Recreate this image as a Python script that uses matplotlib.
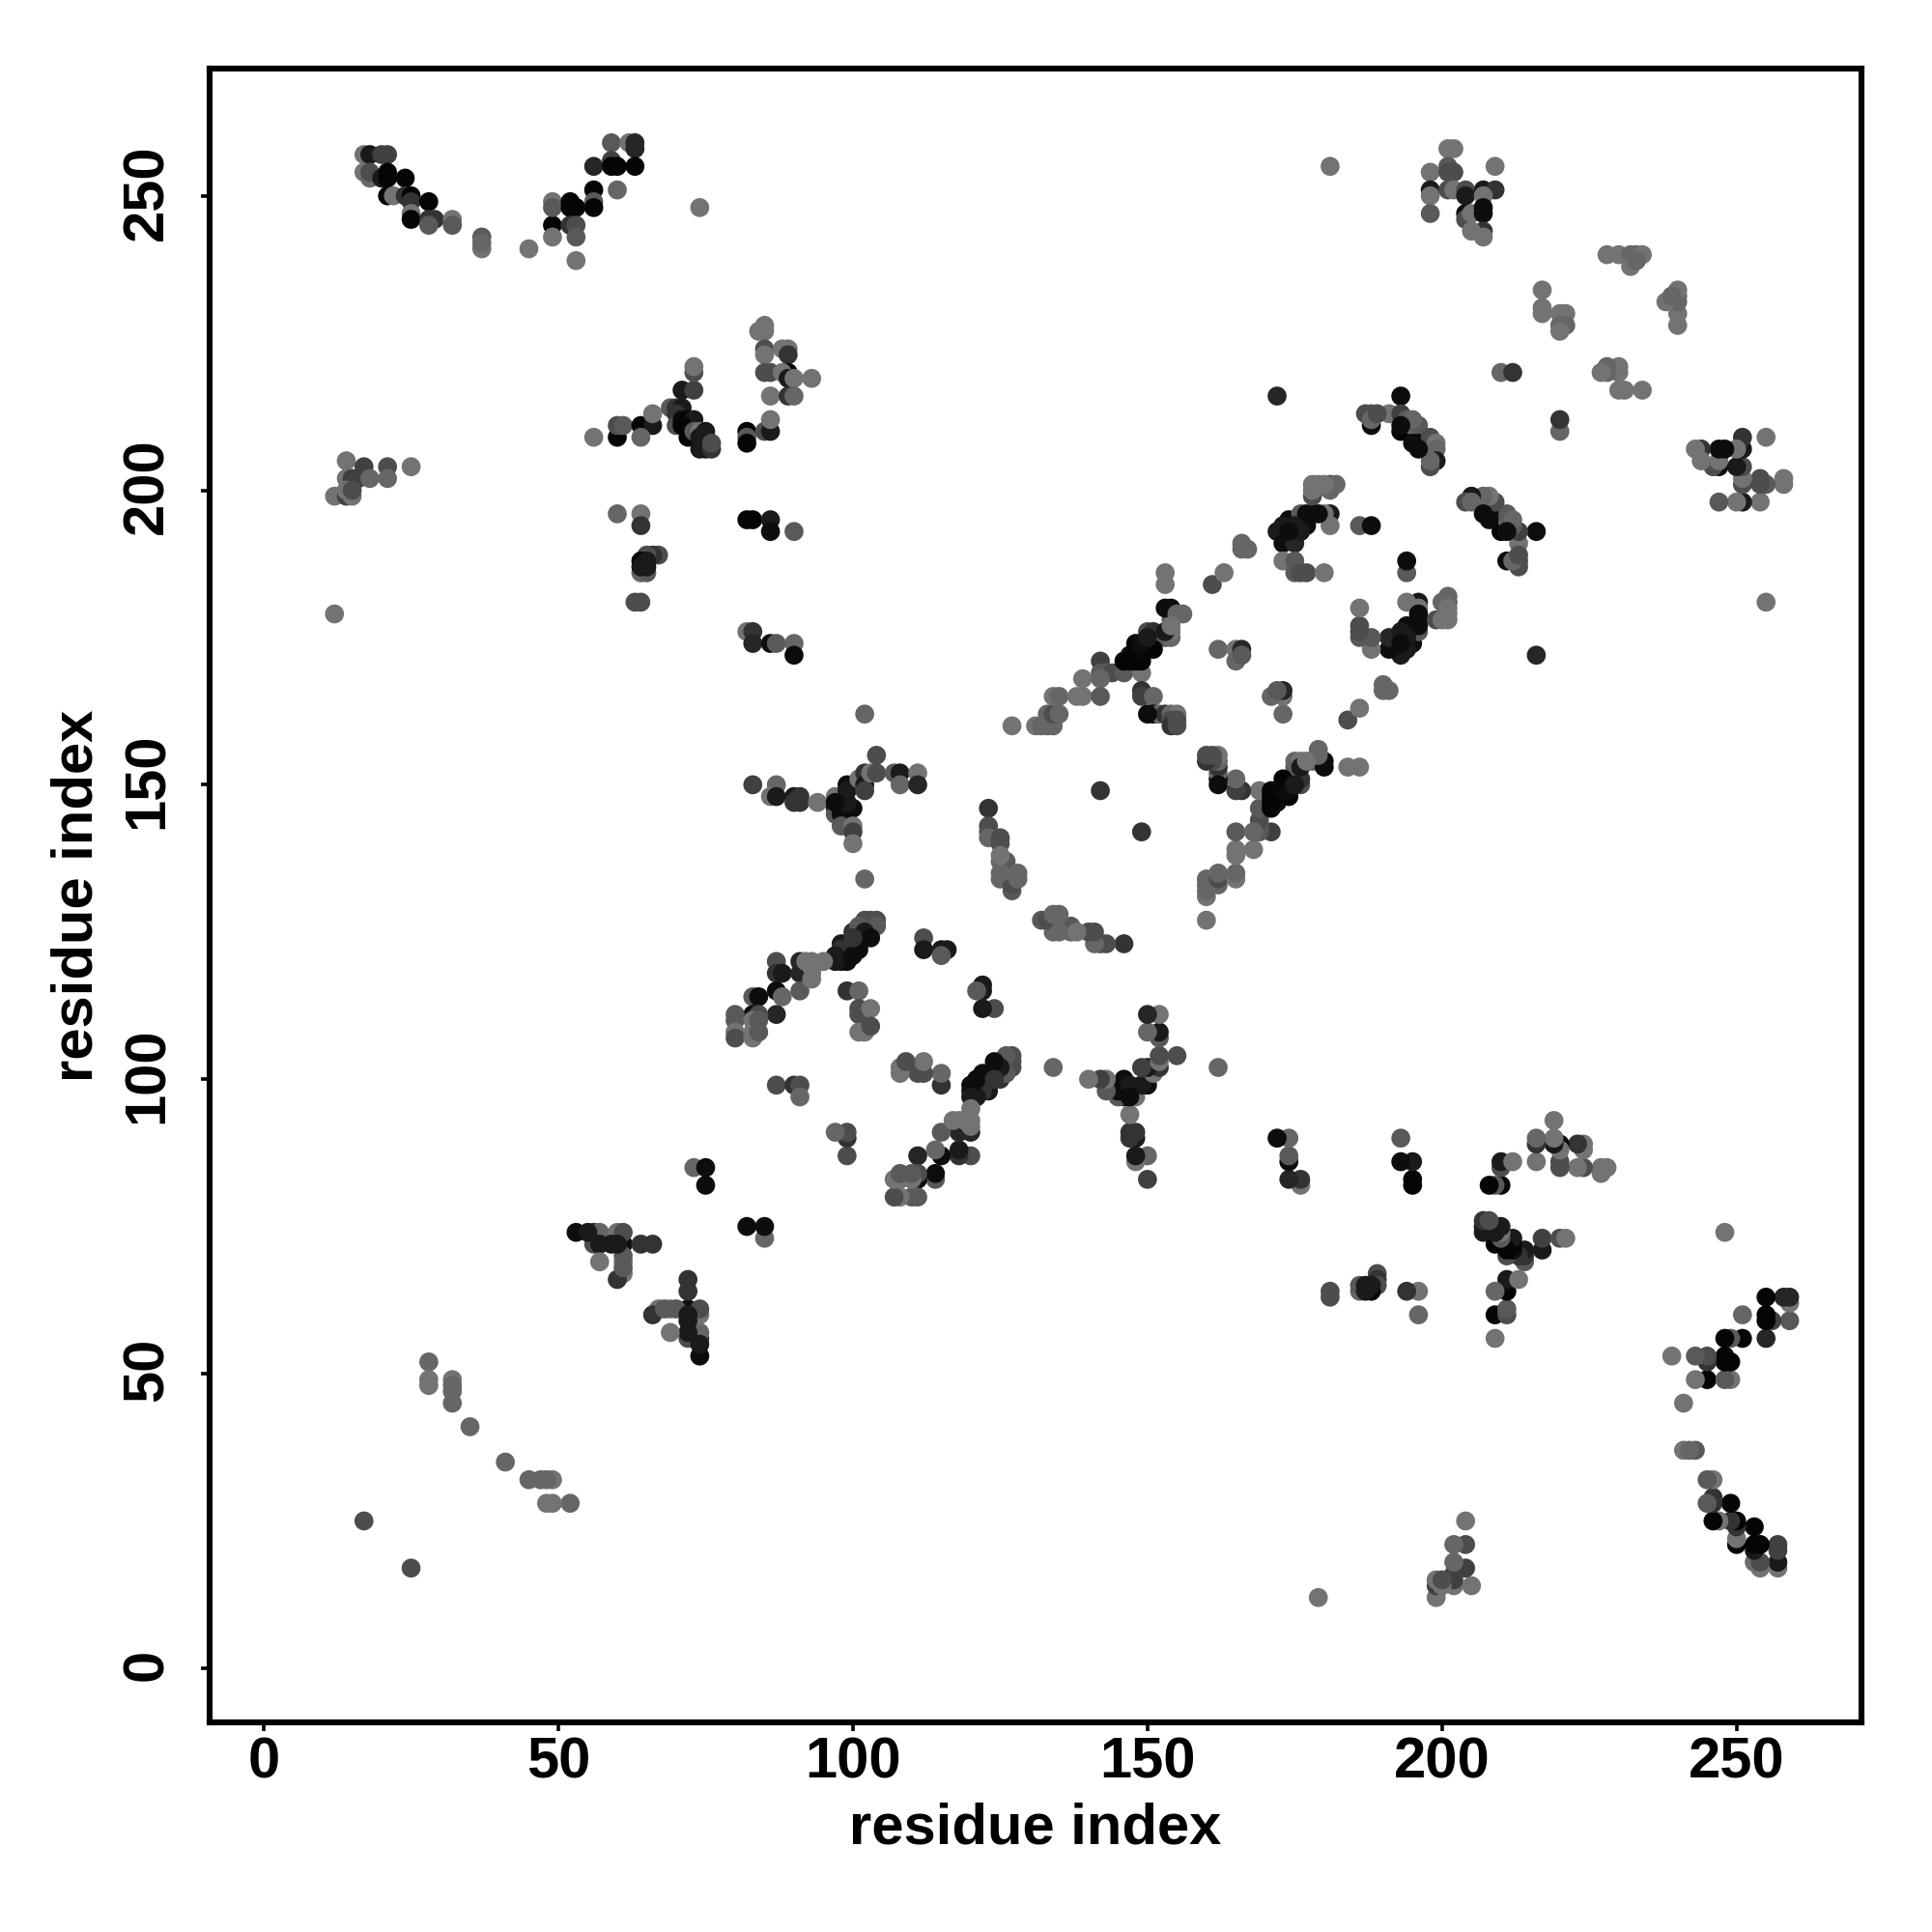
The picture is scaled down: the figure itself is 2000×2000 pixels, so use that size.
import matplotlib
matplotlib.use("Agg")
import matplotlib.pyplot as plt
from matplotlib.transforms import ScaledTranslation

plt.rcParams['font.family'] = ['Liberation Sans', 'DejaVu Sans']

# contacts: (residue i, residue j, grey level)
nterm_a = [(17,257,.45),(18,257,.1),(20,257,.25),(21,257,.25),(17,254,.45),(18,253,.42),(18,254,.3),(20,253,.1),
 (21,254,.02),(21,253,.02),(24,253,.02),(21,250,.02),(22,250,.45),(24,250,.2),(25,250,.02),(25,249,.2),(28,249,.02),
 (25,247,.45),(25,246,.02),(28,246,.2),(29,246,.2),(28,245,.35),(32,246,.45),(32,245,.35),(37,243,.35),(37,241,.45),
 (37,242,.4),(45,241,.45)]
nterm_b = [(49,245,.02),(49,243,.45),(49,249,.45),(49,248,.35),(52,249,.02),(53,248,.02),(52,248,.02),(52,245,.2),
 (53,245,.3),(53,243,.35),(53,239,.45),(56,251,.02),(56,249,.35),(56,248,.02),(56,255,.15),(59,259,.35),(59,256,.25),
 (59,255,.02),(60,255,.02),(60,251,.4),(62,259,.45),(63,259,.15),(63,258,.15),(63,255,.02),(74,248,.45)]
left_group = [(14,205,.45),(17,204,.25),(21,204,.3),(25,204,.45),(14,202,.45),(15,202,.25),(16,202,.25),(18,202,.4),
 (21,202,.4),(12,199,.45),(14,199,.25),(15,199,.45),(14,200,.45),(15,200,.3),(12,179,.45),(17,25,.3),(25,17,.3)]
mid_upper = [(56,209,.45),(60,209,.02),(60,211,.3),(61,211,.35),(64,211,.02),(66,211,.1),(64,209,.4),(66,213,.45),
 (69,214,.35),(70,214,.2),(71,214,.1),(70,213,.2),(70,211,.3),(71,217,.1),(73,217,.25),(73,220,.3),(73,221,.45),
 (71,212,.05),(72,212,.02),(73,212,.1),(72,210,.3),(71,211,.02),(72,209,.02),(73,210,.35),(74,210,.45),(75,210,.1),
 (74,209,.1),(75,209,.1),(74,207,.1),(75,207,.1),(76,207,.2),(76,208,.3)]
mid_upper_b = [(82,210,.02),(82,209,.35),(82,208,.02),(85,210,.3),(86,210,.1),(86,212,.45),(84,227,.45),(85,227,.45),
 (85,228,.45),(85,224,.3),(85,223,.45),(85,220,.3),(86,220,.3),(88,224,.45),(89,224,.45),(89,223,.2),(89,220,.02),
 (88,220,.45),(89,219,.1),(90,219,.45),(93,219,.45),(86,216,.45),(89,216,.2),(90,216,.4)]
mid_lower = [(60,196,.4),(64,196,.45),(64,194,.2),(82,195,.02),(83,195,.02),(86,195,.1),(86,193,.05),(90,193,.35),
 (64,186,.4),(65,186,.35),(67,189,.3),(66,189,.2),(65,189,.3),(64,188,.02),(65,188,.1),(64,187,.1),(65,187,.1),
 (63,181,.3),(64,181,.3),(82,176,.45),(83,176,.2),(83,174,.15),(86,174,.05),(87,174,.35),(90,174,.4),(90,172,.05)]
low_pairs = [(28,52,.4),(28,49,.45),(28,48,.45),(32,49,.45),(32,48,.4),(32,47,.4),(32,45,.4),(35,41,.4),
 (53,74,.05),(56,74,.2),(57,74,.4),(60,74,.45),(56,72,.3),(57,72,.1),(57,69,.45),(59,72,.1),(61,72,.05),(61,74,.3),
 (61,69,.45),(61,67,.45),(60,66,.2),(64,72,.2),(66,72,.2),(61,70,.35),(61,68,.35),
 (73,85,.4),(75,85,.05),(75,82,.05),(85,73,.4),(87,99,.3),(90,99,.2),(91,99,.3),(91,97,.4),
 (72,60,.1),(72,57,.1),(74,57,.1),(74,60,.45),(74,55,.1),(69,57,.45)]
helix_a = [(102,162,.4),(104,155,.3),(83,150,.25),(87,150,.4),(86,148,.45),(87,148,.1),(90,148,.1),(91,148,.2),
 (90,147,.2),(91,147,.2),(94,147,.45),(97,148,.45),(99,150,.05),(99,149,.1),(97,146,.1),(97,145,.35),(98,146,.1),
 (98,145,.05),(99,146,.05),(100,146,.05),(98,143,.35),(100,143,.45),(100,142,.25),(100,140,.45),(101,151,.45),
 (102,152,.2),(102,150,.1),(102,149,.25),(103,152,.45),(104,152,.3),(107,152,.35),(108,152,.1),(108,150,.4),
 (111,152,.45),(111,150,.15),(102,134,.4)]
helix_b = [(102,127,.3),(103,127,.3),(104,127,.3),(104,126,.35),(100,125,.2),(101,126,.35),(101,124,.1),(102,125,.1),
 (102,124,.1),(103,124,.05),(98,123,.1),(99,123,.1),(99,122,.1),(101,122,.05),(98,122,.2),(97,121,.1),(98,120,.1),
 (99,120,.05),(97,120,.1),(100,121,.05),(93,120,.45),(95,120,.45),(93,118,.45),(87,120,.3),(87,118,.2),(88,118,.1),
 (91,120,.15),(91,118,.15),(92,120,.45),(87,115,.05),(88,114,.4),(91,115,.35),(83,114,.35),(84,114,.05),(87,111,.15),
 (83,111,.05),(84,111,.3),(80,111,.35),(80,110,.35),(80,108,.45),(80,107,.3),(83,110,.45),(83,108,.45),(83,107,.45)]
helix_c = [(99,115,.2),(101,115,.4),(101,112,.3),(101,111,.3),(103,112,.45),(101,108,.45),(102,108,.45),(103,109,.3),
 (112,124,.3),(112,122,.1),(115,122,.1),(116,122,.1),(115,121,.35),(122,116,.1),(122,115,.1),(121,115,.4),(122,112,.05),
 (124,112,.3),(123,146,.2),(123,143,.3),(123,142,.3),(123,141,.4),(125,141,.3),(125,140,.3),(125,137,.4),(126,137,.35),
 (125,134,.4),(127,132,.35),(127,133,.3),(128,134,.4),(128,135,.4)]
centre_a = [(127,160,.45),(131,160,.45),(132,160,.4),(133,160,.4),(134,160,.4),(133,162,.4),(134,162,.3),(135,162,.4),
 (134,165,.45),(135,165,.4),(138,165,.45),(139,165,.45),(142,165,.35),(139,168,.45),(142,171,.25),(142,169,.35),
 (143,169,.35),(144,169,.3),(146,169,.35),(149,169,.45),(142,168,.4),(149,166,.2),(149,165,.25),(151,165,.4),
 (151,162,.05),(152,162,.4),(153,162,.2),(154,162,.4),(155,162,.45),(154,161,.3),(154,160,.2)]
centre_b = [(146,171,.02),(147,172,.05),(148,171,.02),(149,171,.02),(148,174,.02),(149,173,.05),(150,173,.02),
 (151,174,.05),(150,176,.3),(151,176,.2),(152,175,.2),(153,175,.35),(154,175,.4),(154,176,.45),(154,179,.1),(154,178,.35),
 (153,180,.05),(154,180,.05),(155,179,.4),(156,179,.4),(162,173,.4),(165,173,.45),(166,173,.15),(165,171,.4),(166,172,.35),
 (171,165,.35),(172,166,.45),(173,166,.15),(173,165,.4),(173,162,.4),(184,161,.3),(186,163,.45)]
centre_c = [(160,154,.2),(161,155,.3),(162,155,.4),(160,155,.3),(162,153,.15),(162,152,.4),(162,150,.05),(162,151,.15),
 (165,151,.35),(165,149,.2),(166,149,.2),(169,149,.45),(171,149,.02),(171,146,.02),(171,147,.02),(172,147,.05),
 (173,151,.02),(174,148,.02),(174,149,.05),(175,153,.1),(176,153,.1),(176,150,.2),(175,150,.1),(176,154,.4),(179,156,.35),
 (180,154,.05),(180,153,.05),(177,154,.45),(184,153,.45),(186,153,.45),(169,146,.3),(169,144,.35),(169,142,.2),
 (168,142,.45),(171,142,.2),(165,142,.35),(165,139,.45),(165,138,.4),(168,139,.45),(165,135,.35),(165,134,.4),
 (162,135,.4),(162,133,.25),(160,134,.4),(160,133,.4),(160,131,.45),(160,132,.4),(160,127,.45),(142,149,.2),(149,142,.2),
 (133,127,.3),(134,128,.35),(135,128,.35),(134,125,.4),(135,125,.4),(137,126,.4),(138,125,.45),(140,125,.35),
 (141,125,.35),(141,123,.4),(143,123,.3),(146,123,.2)]
upper_a = [(172,216,.15),(193,216,.05),(188,213,.3),(187,213,.3),(188,211,.05),(191,213,.45),(193,213,.25),(194,212,.35),
 (193,210,.02),(195,211,.4),(196,211,.35),(195,208,.05),(196,208,.05),(198,209,.3),(199,208,.45),(199,207,.4),
 (199,205,.1),(198,204,.3),(198,205,.4),(204,198,.3),(205,199,.15),(207,199,.45),(208,199,.45),(209,198,.35),
 (207,196,.05),(208,195,.02),(210,193,.02),(211,196,.35),(212,195,.4),(213,193,.2),(216,193,.05),(213,191,.4),
 (211,188,.05),(212,188,.4),(213,188,.25),(213,189,.3),(211,193,.05)]
upper_b = [(172,193,.1),(174,195,.05),(173,194,.1),(175,193,.05),(173,191,.05),(175,191,.15),(173,188,.45),(175,188,.35),
 (175,186,.35),(176,186,.3),(177,186,.3),(180,186,.45),(176,196,.35),(177,196,.05),(178,196,.05),(177,194,.05),
 (175,194,.1),(181,196,.1),(180,196,.45),(181,194,.45),(178,201,.45),(179,201,.45),(181,201,.3),(182,201,.4),
 (178,199,.3),(178,200,.45),(181,200,.4),(166,191,.4),(167,190,.4),(166,190,.4),(163,186,.45),(161,184,.3),
 (186,194,.35),(188,194,.05),(194,188,.05),(194,186,.3)]
upper_c = [(186,180,.45),(186,177,.35),(186,175,.35),(188,175,.35),(188,173,.45),(191,175,.1),(191,173,.15),(193,172,.1),
 (193,176,.1),(193,174,.05),(195,174,.05),(194,177,.05),(196,177,.05),(196,179,.05),(196,178,.05),(194,181,.45),
 (196,181,.15),(199,178,.4),(201,178,.45),(201,180,.45),(201,181,.3),(201,182,.45),(200,181,.45),(216,172,.15),
 (190,167,.4),(191,166,.4),(190,166,.45)]
corner_a = [(201,258,.45),(202,258,.45),(198,254,.45),(201,255,.35),(202,254,.3),(201,254,.3),(209,255,.45),(198,251,.1),
 (198,250,.45),(198,247,.35),(201,251,.3),(202,251,.45),(204,251,.3),(204,250,.1),(207,251,.1),(209,251,.2),(207,250,.45),
 (204,247,.05),(204,246,.3),(205,247,.45),(207,248,.05),(207,247,.05),(207,244,.2),(207,243,.45),(205,244,.45)]
corner_b = [(228,240,.45),(230,240,.45),(232,240,.4),(233,240,.4),(234,240,.45),(232,238,.45),(233,239,.4),(217,234,.45),
 (217,231,.45),(217,230,.45),(220,230,.45),(221,230,.45),(220,228,.4),(221,228,.4),(220,227,.45),(240,234,.45),
 (239,233,.4),(240,233,.4),(238,232,.45),(240,230,.45),(240,228,.45),(210,220,.4),(212,220,.2),(227,220,.45),
 (228,221,.45),(230,221,.45),(230,220,.45),(230,217,.45),(231,217,.45),(234,217,.45),(220,212,.2),(220,210,.4)]
corner_c = [(243,207,.45),(244,207,.2),(244,205,.45),(247,207,.05),(248,207,.05),(247,205,.35),(247,204,.05),(246,204,.45),
 (251,209,.15),(251,207,.05),(250,207,.45),(255,209,.45),(250,204,.05),(251,204,.35),(251,202,.45),(251,201,.25),
 (254,202,.3),(255,201,.3),(254,201,.3),(258,202,.45),(258,201,.35),(247,198,.35),(250,198,.45),(251,198,.1),
 (254,198,.45),(255,181,.45)]
lower_band = [(127,104,.3),(127,103,.35),(127,102,.35),(126,104,.45),(124,103,.1),(122,101,.1),(124,100,.2),(120,99,.05),
 (122,99,.15),(123,98,.2),(120,97,.2),(120,95,.45),(120,93,.45),(120,91,.15),(120,87,.3),(134,102,.4),(162,102,.45),
 (140,100,.45),(142,100,.3),(143,100,.4),(143,98,.3),(145,98,.1),(146,100,.05),(146,99,.05),(147,99,.1),(145,97,.2),
 (147,97,.05),(148,97,.45),(149,102,.2),(150,102,.05),(149,99,.1),(150,99,.1),(151,101,.4),(152,102,.2),(155,104,.35),
 (152,104,.3),(152,103,.45),(150,111,.1),(152,111,.45),(150,108,.4),(152,108,.15),(152,107,.4),(147,94,.45),(147,91,.2),
 (148,91,.2),(147,90,.1),(148,90,.05),(148,87,.1),(150,87,.45),(148,86,.45),(150,83,.3),(115,91,.3),(117,93,.45),
 (119,93,.45),(118,87,.1),(108,84,.35),(110,84,.35)]

clusters = [nterm_a, nterm_b, left_group, mid_upper, mid_upper_b, mid_lower, low_pairs, helix_a, helix_b, helix_c,
            centre_a, centre_b, centre_c, upper_a, upper_b, upper_c, corner_a, corner_b, corner_c, lower_band]
tick_values = [0, 50, 100, 150, 200, 250]
axis_label = "residue index"

seen = {}
for cluster in clusters:
    for i, j, g in cluster:
        seen.setdefault((i, j), g)
        seen.setdefault((j, i), g)

xs = [k[0] for k in seen]
ys = [k[1] for k in seen]
greys = [str(g) for g in seen.values()]

fig = plt.figure(figsize=(10, 10), dpi=200)
L, R, T, B = 217, 1927, 71, 1783
ax = fig.add_axes([L/2000, 1-B/2000, (R-L)/2000, (B-T)/2000])
ax.scatter(xs, ys, s=50, c=greys, linewidths=0, zorder=3, clip_on=True)
ax.set_xlim(-9.2, 271.2)
ax.set_ylim(-9.2, 271.6)
ax.set_xticks(tick_values)
ax.set_yticks(tick_values)
ax.set_xticklabels([str(v) for v in tick_values], fontsize=21.5, fontweight='bold')
ax.set_yticklabels([str(v) for v in tick_values], fontsize=21.5, fontweight='bold', rotation=90, va='center')
ax.tick_params(axis='x', length=3.2, width=1.3, pad=2)
ax.tick_params(axis='y', length=3.2, width=1.3, pad=10)
shift = ScaledTranslation(0, 4/200, fig.dpi_scale_trans)
for lab in ax.get_yticklabels():
    lab.set_transform(lab.get_transform() + shift)
for s in ax.spines.values():
    s.set_linewidth(2.2)
ax.set_xlabel(axis_label, fontsize=21.5, fontweight='bold')
ax.set_ylabel(axis_label, fontsize=21.5, fontweight='bold')
ax.xaxis.set_label_coords(0.5, (B-1893)/(B-T))
ax.yaxis.set_label_coords((80-L)/(R-L), 0.5)
ax.xaxis.label.set_va('center')
ax.yaxis.label.set_va('center')
fig.savefig("out.png", dpi=200, facecolor='white')
